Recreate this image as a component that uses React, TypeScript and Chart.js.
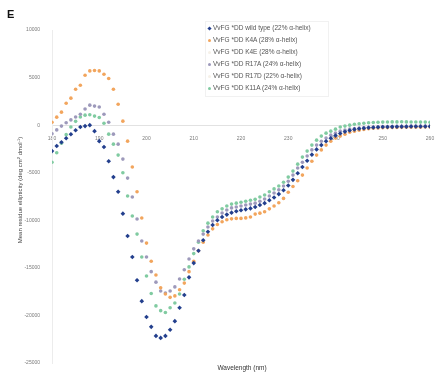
import React, { useEffect, useRef } from "react";
import { Chart, registerables } from "chart.js";

Chart.register(...registerables);

// Wavelengths (nm)
const wavelengths = [
  180, 181, 182, 183, 184, 185, 186, 187, 188, 189,
  190, 191, 192, 193, 194, 195, 196, 197, 198, 199,
  200, 201, 202, 203, 204, 205, 206, 207, 208, 209,
  210, 211, 212, 213, 214, 215, 216, 217, 218, 219,
  220, 221, 222, 223, 224, 225, 226, 227, 228, 229,
  230, 231, 232, 233, 234, 235, 236, 237, 238, 239,
  240, 241, 242, 243, 244, 245, 246, 247, 248, 249,
  250, 251, 252, 253, 254, 255, 256, 257, 258, 259, 260,
];

const wildType = [
  -2730, -2200, -1800, -1370, -950, -530, -200, -100, 0, -630,
  -1680, -2300, -3800, -5460, -7000, -9300, -11650, -13860, -16300, -18500,
  -20160, -21200, -22150, -22360, -22150, -21500, -20600, -19200, -17850, -16000,
  -14500, -13200, -12100, -11200, -10500, -10000, -9650, -9400, -9200, -9050,
  -8950, -8850, -8750, -8600, -8400, -8200, -7900, -7600, -7250, -6850,
  -6350, -5750, -5050, -4400, -3750, -3100, -2550, -2100, -1700, -1380,
  -1100, -880, -700, -560, -450, -380, -320, -280, -250, -220,
  -200, -190, -180, -170, -160, -160, -150, -150, -140, -140, -130,
];

const k4a = [
  300, 840, 1365, 2300, 2835, 3780, 4200, 5250, 5700, 5750,
  5700, 5350, 4900, 3780, 2200, 420, -1680, -4400, -7000, -9760,
  -12400, -14300, -15750, -17100, -17750, -18100, -17950, -17300, -16600, -15400,
  -14300, -13200, -12300, -11550, -10900, -10450, -10150, -9950, -9850, -9800,
  -9800, -9750, -9650, -9350, -9250, -9100, -8800, -8500, -8150, -7700,
  -7050, -6450, -5850, -5250, -4500, -3800, -3150, -2600, -2100, -1700,
  -1350, -1150, -950, -750, -630, -530, -450, -380, -330, -300,
  -280, -260, -250, -240, -230, -220, -220, -210, -210, -200, -200,
];

const k4e: number[] = [];

const r17a = [
  -900, -500, -100, 250, 550, 850, 1150, 1700, 2100, 2000,
  1900, 1150, 300, -945, -2000, -3570, -5565, -7560, -9870, -12180,
  -13860, -15400, -16500, -17430, -17640, -17430, -17000, -16170, -15200, -14070,
  -13000, -12180, -11450, -10700, -10080, -9660, -9240, -8925, -8700, -8600,
  -8500, -8400, -8300, -8200, -8000, -7770, -7450, -7140, -6800, -6400,
  -5900, -5250, -4500, -3900, -3250, -2600, -2100, -1700, -1350, -1050,
  -840, -630, -525, -420, -350, -300, -260, -230, -200, -180,
  -160, -150, -140, -130, -120, -110, -100, -100, -100, -90, -90,
];

const r17d: number[] = [];

const k11a = [
  -3900, -2900, -1900, -1000, -200, 400, 850, 1050, 1100, 950,
  800, 200, -945, -2000, -3150, -5000, -7450, -9550, -11450, -13860,
  -15850, -17700, -19000, -19500, -19700, -19200, -18700, -17750, -16200, -14900,
  -13500, -12300, -11100, -10300, -9650, -9100, -8800, -8500, -8300, -8200,
  -8100, -8000, -7900, -7800, -7560, -7350, -7000, -6700, -6400, -6000,
  -5460, -4830, -4100, -3360, -2730, -2100, -1575, -1150, -840, -630,
  -420, -200, -100, 0, 100, 150, 200, 250, 280, 300,
  320, 330, 340, 340, 350, 340, 330, 330, 320, 320, 310,
];

const seriesLabels = [
  "VvFG *DD wild type (22% \u03b1-helix)",
  "VvFG *DD K4A (28% \u03b1-helix)",
  "VvFG *DD K4E (28% \u03b1-helix)",
  "VvFG *DD R17A (24% \u03b1-helix)",
  "VvFG *DD R17D (22% \u03b1-helix)",
  "VvFG *DD K11A (24% \u03b1-helix)",
];
const seriesValues = [wildType, k4a, k4e, r17a, r17d, k11a];
const seriesColors = ["#233f8d", "#f2a55d", "#f6f1e8", "#9d99bb", "#f6f1e8", "#80cba1"];
const seriesShapes = ["rectRot", "circle", "circle", "circle", "circle", "circle"];

const xMin = 180;
const xMax = 260;
const xStep = 10;
const yMin = -25000;
const yMax = 10000;
const yStep = 5000;

const FONT = "'Liberation Sans', Arial, sans-serif";

export default function App() {
  const canvasRef = useRef<HTMLCanvasElement | null>(null);

  useEffect(() => {
    const canvas = canvasRef.current;
    if (!canvas) return;
    const chart = new Chart(canvas, {
      type: "scatter",
      data: {
        datasets: seriesLabels.map((label, s) => ({
          label,
          data: seriesValues[s].map((v, i) => ({ x: wavelengths[i], y: v })),
          backgroundColor: seriesColors[s],
          borderColor: seriesColors[s],
          borderWidth: 0,
          pointStyle: seriesShapes[s] as any,
          pointRadius: s === 0 ? 2.3 : 1.8,
          showLine: false,
        })),
      },
      options: {
        responsive: false,
        animation: false,
        events: [],
        layout: { padding: { left: 0, top: 30, right: 8, bottom: 16 } },
        plugins: {
          legend: { display: false },
          tooltip: { enabled: false },
          title: { display: false },
        },
        scales: {
          x: {
            type: "linear",
            min: xMin,
            max: xMax,
            position: { y: 0 } as any,
            grid: { display: false },
            border: { display: true, color: "#e2e2e2", width: 1 },
            ticks: {
              stepSize: xStep,
              color: "#7a7a7a",
              padding: 2,
              font: { family: FONT, size: 5 },
              maxRotation: 0,
              callback: (v: any) => String(v),
            },
          },
          y: {
            type: "linear",
            min: yMin,
            max: yMax,
            grid: { display: false },
            border: { display: true, color: "#ececec", width: 1 },
            ticks: {
              stepSize: yStep,
              color: "#7a7a7a",
              padding: 4,
              font: { family: FONT, size: 5 },
              callback: (v: any) => String(v),
            },
            afterFit: (scale: any) => {
              scale.width = 52;
            },
          },
        },
      },
    });
    return () => chart.destroy();
  }, []);

  return (
    <div
      style={{
        position: "absolute",
        left: 0,
        top: 0,
        width: 438,
        height: 379,
        background: "#ffffff",
        overflow: "hidden",
        fontFamily: FONT,
      }}
    >
      <canvas ref={canvasRef} width={438} height={379} style={{ position: "absolute", left: 0, top: 0 }} />
      <div
        style={{
          position: "absolute",
          left: 7,
          top: 8,
          fontSize: 11,
          fontWeight: "bold",
          color: "#111",
          lineHeight: "12px",
        }}
      >
        E
      </div>
      <div
        style={{
          position: "absolute",
          left: 20,
          top: 190,
          transform: "translate(-50%, -50%) rotate(-90deg)",
          whiteSpace: "nowrap",
          fontSize: 6,
          color: "#444",
          lineHeight: "7px",
        }}
      >
        Mean residue ellipticity (deg cm<sup style={{ fontSize: 4, verticalAlign: "top", lineHeight: "4px" }}>2</sup> dmol
        <sup style={{ fontSize: 4, verticalAlign: "top", lineHeight: "4px" }}>-1</sup>)
      </div>
      <div
        style={{
          position: "absolute",
          left: 242,
          top: 368,
          transform: "translate(-50%, -50%)",
          whiteSpace: "nowrap",
          fontSize: 6.5,
          color: "#333",
          lineHeight: "8px",
        }}
      >
        Wavelength (nm)
      </div>
      <div
        style={{
          position: "absolute",
          left: 205,
          top: 21,
          width: 124,
          height: 76,
          border: "1px solid #f1f1f1",
          boxSizing: "border-box",
        }}
      >
        {seriesLabels.map((label, s) => (
          <div
            key={label}
            style={{
              position: "absolute",
              left: 2,
              top: 2 + s * 12,
              height: 8,
              display: "flex",
              alignItems: "center",
              whiteSpace: "nowrap",
            }}
          >
            <span
              style={{
                display: "inline-block",
                width: 3,
                height: 3,
                background: seriesColors[s],
                borderRadius: s === 0 ? 0 : 2,
                transform: s === 0 ? "rotate(45deg)" : "none",
                marginRight: 2,
              }}
            />
            <span style={{ fontSize: 6.5, color: "#555", lineHeight: "8px" }}>{label}</span>
          </div>
        ))}
      </div>
    </div>
  );
}
